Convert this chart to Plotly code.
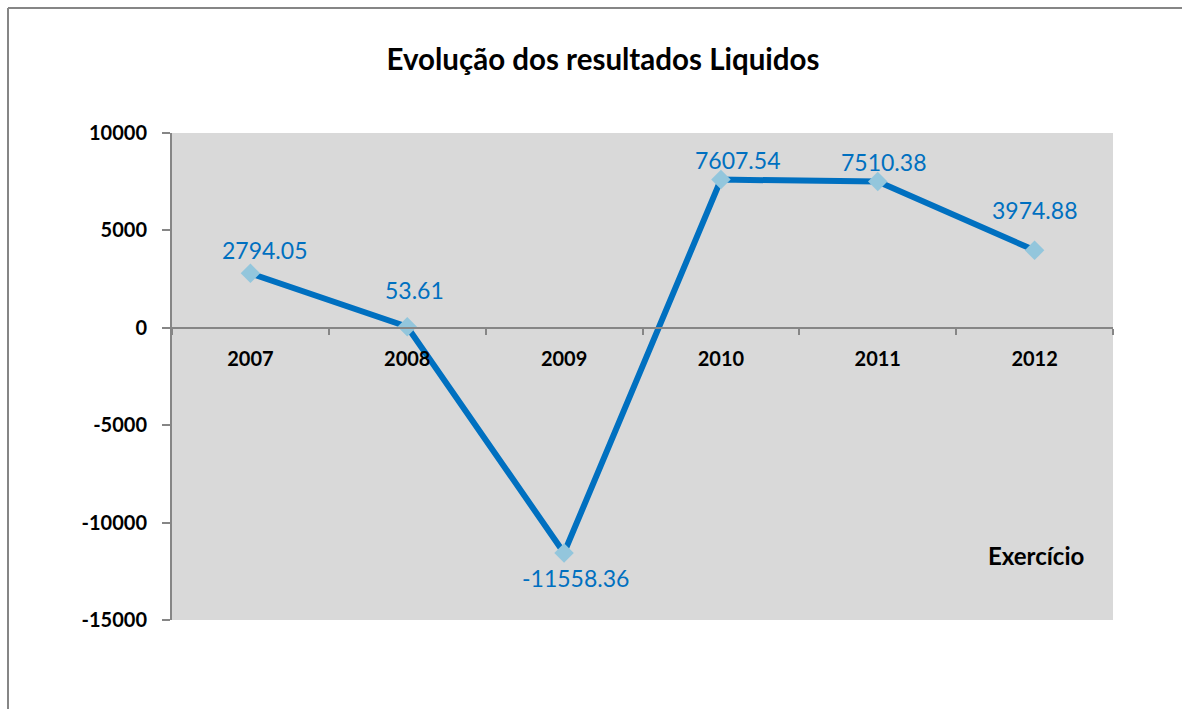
import plotly.graph_objects as go

years = ["2007", "2008", "2009", "2010", "2011", "2012"]
resultados = [2794.05, 53.61, -11558.36, 7607.54, 7510.38, 3974.88]
label_texts = ["2794.05", "53.61", "-11558.36", "7607.54", "7510.38", "3974.88"]
y_ticks = [-15000, -10000, -5000, 0, 5000, 10000]

# label placement (style)
label_xshift = [14, 7, 11, 17, 6, 0]
label_yshift = [23, 37, -25, 20, 20, 40]

FONT = "Lato"
W, H = 1182, 709
L, R, T, B = 172, 69, 133, 89
pw, ph = W - L - R, H - T - B

fig = go.Figure()
fig.add_trace(go.Scatter(
    x=years, y=resultados, mode="lines+markers",
    line=dict(color="#0070C0", width=6),
    marker=dict(symbol="diamond", size=15, color="#93C6DC"),
    hoverinfo="x+y", showlegend=False,
))

# data labels (category index used as x position on the category axis)
for i, (y, t, dx, dy) in enumerate(zip(resultados, label_texts, label_xshift, label_yshift)):
    fig.add_annotation(x=i, y=y, text=t, showarrow=False, xshift=dx, yshift=dy,
                       xanchor="center", yanchor="middle",
                       font=dict(family=FONT, size=23, color="#0070C0"))

px = lambda v: (v - L) / pw
py = lambda v: 1 - (v - T) / ph

fig.add_annotation(xref="paper", yref="paper", x=px(1036), y=py(555),
                   xanchor="center", yanchor="middle",
                   text="<b>Exercício</b>", showarrow=False,
                   font=dict(family=FONT, size=24, color="#000000"))

# outer chart border (left and top)
fig.add_shape(type="line", xref="paper", yref="paper", x0=px(8), x1=px(8), y0=py(8), y1=py(712),
              line=dict(color="#868686", width=2))
fig.add_shape(type="line", xref="paper", yref="paper", x0=px(8), x1=px(1190), y0=py(8), y1=py(8),
              line=dict(color="#868686", width=2))

fig.update_layout(
    width=W, height=H,
    margin=dict(l=L, r=R, t=T, b=B, pad=0),
    paper_bgcolor="white", plot_bgcolor="#D9D9D9",
    title=dict(text="<b>Evolução dos resultados Liquidos</b>", x=603 / W, xanchor="center",
               y=1 - 60 / H, yanchor="middle",
               font=dict(family=FONT, size=29.5, color="#000000")),
    xaxis=dict(type="category", range=[-0.5, len(years) - 0.5], anchor="free", position=0.6,
               showline=True, linecolor="#868686", linewidth=2, ticks="outside", ticklen=6,
               tickcolor="#868686", tickwidth=2, tickson="boundaries",
               showgrid=False, zeroline=False, ticklabelstandoff=13,
               tickmode="array", tickvals=years, ticktext=["<b>%s</b>" % y for y in years],
               tickfont=dict(family=FONT, size=20, color="#000000")),
    yaxis=dict(range=[-15000, 10000], tickmode="array", tickvals=y_ticks,
               ticktext=["<b>%d</b>" % v for v in y_ticks],
               showline=True, linecolor="#868686", linewidth=2, ticks="outside", ticklen=8,
               tickcolor="#868686", tickwidth=2, showgrid=False, zeroline=False,
               ticklabelstandoff=11,
               tickfont=dict(family=FONT, size=20, color="#000000")),
)

fig.write_html("out.html", post_script="document.body.style.margin='0';",
               config={"displayModeBar": False})
